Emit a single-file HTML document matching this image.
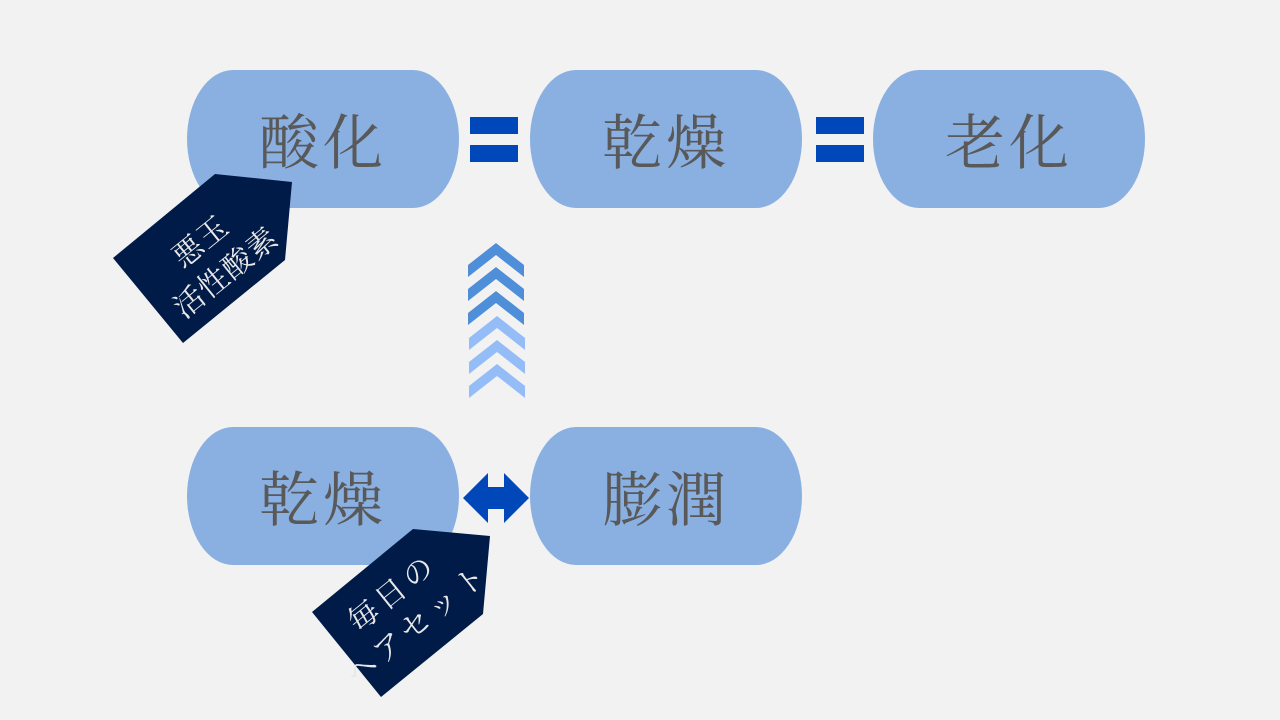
<!DOCTYPE html>
<html><head><meta charset="utf-8"><style>
body{margin:0;width:1280px;height:720px;background:#f2f2f2;position:relative;overflow:hidden;font-family:"Liberation Serif","Noto Serif CJK SC",serif}
.b{position:absolute;width:272px;height:138px;background:#8ab0e2;border-radius:46px/69px;color:#595959;font-size:60px;display:flex;align-items:center;justify-content:center;letter-spacing:4px}
.eq{position:absolute;width:48px;height:17px;background:#0047b9}
.t{position:absolute;color:#e8e8e8;font-size:30px;line-height:40px;text-align:center;white-space:nowrap;transform:translate(-50%,-50%) rotate(-39deg)}
</style></head><body>
<div class="b" style="left:187px;top:70px">酸化</div>
<div class="b" style="left:530px;top:70px">乾燥</div>
<div class="b" style="left:873px;top:70px">老化</div>
<div class="b" style="left:187px;top:427px">乾燥</div>
<div class="b" style="left:530px;top:427px">膨潤</div>
<div class="eq" style="left:470px;top:117px"></div><div class="eq" style="left:470px;top:145px"></div>
<div class="eq" style="left:816px;top:117px"></div><div class="eq" style="left:816px;top:145px"></div>
<svg width="1280" height="720" style="position:absolute;left:0;top:0">
<g fill="#4f8ed8">
<polygon points="468,265 496,243 524,265 524,277 496,255 468,277"/>
<polygon points="468,289 496,267 524,289 524,301 496,279 468,301"/>
<polygon points="468,313 496,291 524,313 524,325 496,303 468,325"/>
</g>
<g fill="#94bdf7">
<polygon points="469,338 497,316 525,338 525,350 497,328 469,350"/>
<polygon points="469,362 497,340 525,362 525,374 497,352 469,374"/>
<polygon points="469,386 497,364 525,386 525,398 497,376 469,398"/>
</g>
<polygon fill="#0047b9" points="463,498 488,473 488,487 504,487 504,473 529,498 504,523 504,509 488,509 488,523"/>
<polygon fill="#001b47" points="215,174 292,182 285,260 183,343 113,258"/>
<polygon fill="#001b47" points="413,529 490,536 483,614 381,697 312,612"/>
</svg>
<div class="t" style="left:214px;top:258px;letter-spacing:1px">悪玉<br>活性酸素</div>
<div class="t" style="left:406px;top:609px;letter-spacing:5px">毎日の<br>ヘアセット</div>
</body></html>
